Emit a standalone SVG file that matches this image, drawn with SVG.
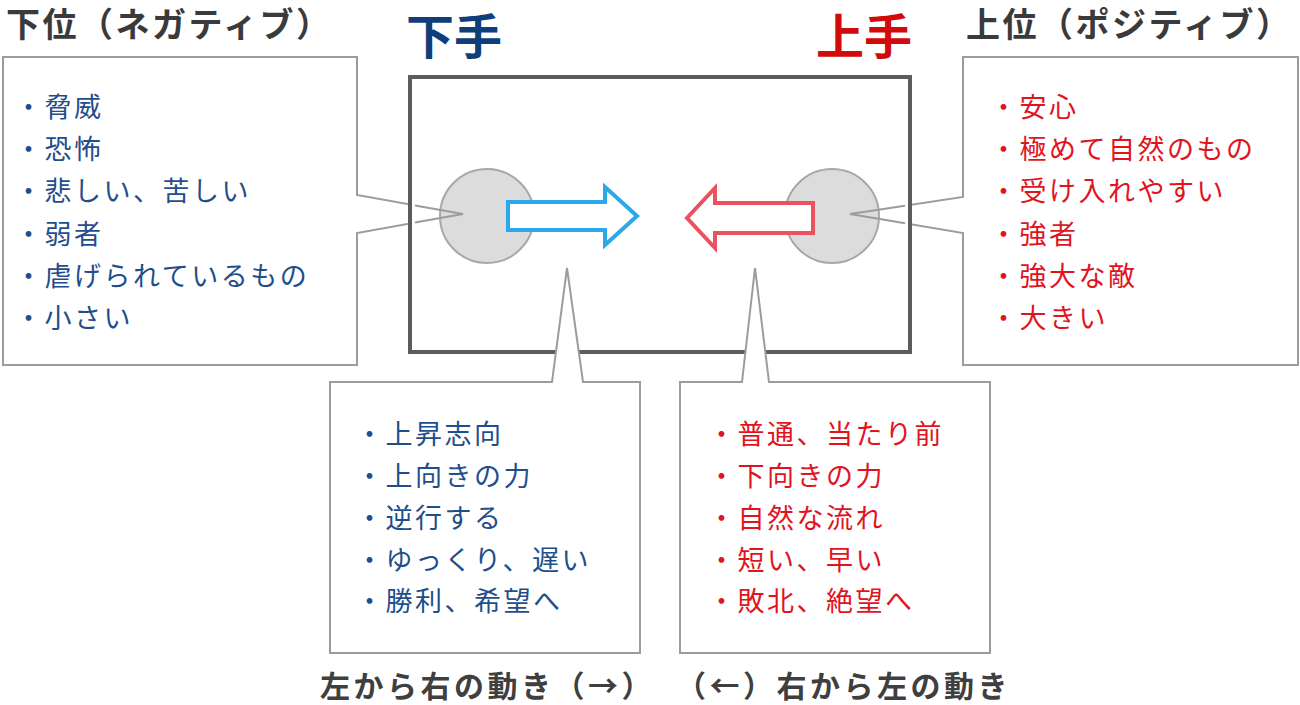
<svg xmlns="http://www.w3.org/2000/svg" width="1300" height="705" viewBox="0 0 1300 705">
<style>
.box{fill:#fff;stroke:#9c9c9c;stroke-width:2;stroke-linejoin:miter}
.wedge{fill:none;stroke:#9c9c9c;stroke-width:2}
.frame{fill:#fff;stroke:#5c5c5c;stroke-width:4}
.ball{fill:#dcdcdc;stroke:#a8a8a8;stroke-width:2}
.title{font-family:"Noto Sans CJK JP","Noto Sans CJK SC",sans-serif;font-weight:bold;fill:#3a3a3a;font-size:34px;letter-spacing:2.5px}
.big{font-family:"Noto Sans CJK JP","Noto Sans CJK SC",sans-serif;font-weight:bold;font-size:48px}
.li{font-family:"Noto Sans CJK JP","Noto Sans CJK SC",sans-serif;font-size:27px;letter-spacing:2.5px}
.blue{fill:#1f4e8c}
.red{fill:#e0141e}
.cap{font-family:"Noto Sans CJK JP","Noto Sans CJK SC",sans-serif;font-weight:bold;fill:#3f3f3f;font-size:30px;letter-spacing:3.5px}
</style>
<g id="left-box">
<polygon class="box" points="3,57 357,57 357,195 463,214 357,233 357,365 3,365"/>
</g>
<g id="right-box">
<polygon class="box" points="963,57 1298,57 1298,365 963,365 963,233 850,214 963,197"/>
</g>
<g id="stage">
<rect class="frame" x="410" y="77" width="500" height="275"/>
</g>
<g id="left-ball">
<circle class="ball" cx="487" cy="216" r="47"/>
</g>
<g id="right-ball">
<circle class="ball" cx="832" cy="216" r="47"/>
</g>
<g id="connectors">
<polyline class="wedge" points="415,205.4 463,214 415,222.6"/>
<polyline class="wedge" points="905,205.7 850,214 905,223.3"/>
</g>
<g id="blue-arrow">
<polygon points="508,202 605,202 605,187 637,216 605,245 605,230 508,230" fill="#fff" stroke="#2aa8e8" stroke-width="4" stroke-linejoin="miter"/>
</g>
<g id="red-arrow">
<polygon points="813,203 715,203 715,188 687,218 715,248 715,233 813,233" fill="#fff" stroke="#e9525e" stroke-width="4" stroke-linejoin="miter"/>
</g>
<g id="bottom-left-box">
<polygon class="box" points="330,382 552,382 567,268 583,382 640,382 640,653 330,653"/>
</g>
<g id="bottom-right-box">
<polygon class="box" points="680,382 742,382 755,268 769,382 990,382 990,653 680,653"/>
</g>
<g id="titles">
<text class="title" x="6" y="37">下位（ネガティブ）</text>
<text class="title" x="966" y="37">上位（ポジティブ）</text>
<text class="big" x="406" y="54" fill="#0f3f7a">下手</text>
<text class="big" x="816" y="54" fill="#d20a0a">上手</text>
</g>
<g id="left-list" class="li blue">
<text x="15" y="117">・脅威</text>
<text x="15" y="159">・恐怖</text>
<text x="15" y="201">・悲しい、苦しい</text>
<text x="15" y="244">・弱者</text>
<text x="15" y="286">・虐げられているもの</text>
<text x="15" y="328">・小さい</text>
</g>
<g id="right-list" class="li red">
<text x="990" y="117">・安心</text>
<text x="990" y="159">・極めて自然のもの</text>
<text x="990" y="201">・受け入れやすい</text>
<text x="990" y="244">・強者</text>
<text x="990" y="286">・強大な敵</text>
<text x="990" y="328">・大きい</text>
</g>
<g id="bottom-left-list" class="li blue">
<text x="356" y="444">・上昇志向</text>
<text x="356" y="486">・上向きの力</text>
<text x="356" y="528">・逆行する</text>
<text x="356" y="570">・ゆっくり、遅い</text>
<text x="356" y="611">・勝利、希望へ</text>
</g>
<g id="bottom-right-list" class="li red">
<text x="708" y="444">・普通、当たり前</text>
<text x="708" y="486">・下向きの力</text>
<text x="708" y="528">・自然な流れ</text>
<text x="708" y="570">・短い、早い</text>
<text x="708" y="611">・敗北、絶望へ</text>
</g>
<g id="captions">
<text class="cap" x="320" y="697">左から右の動き（→）</text>
<text class="cap" x="676" y="697">（←）右から左の動き</text>
</g>
</svg>
